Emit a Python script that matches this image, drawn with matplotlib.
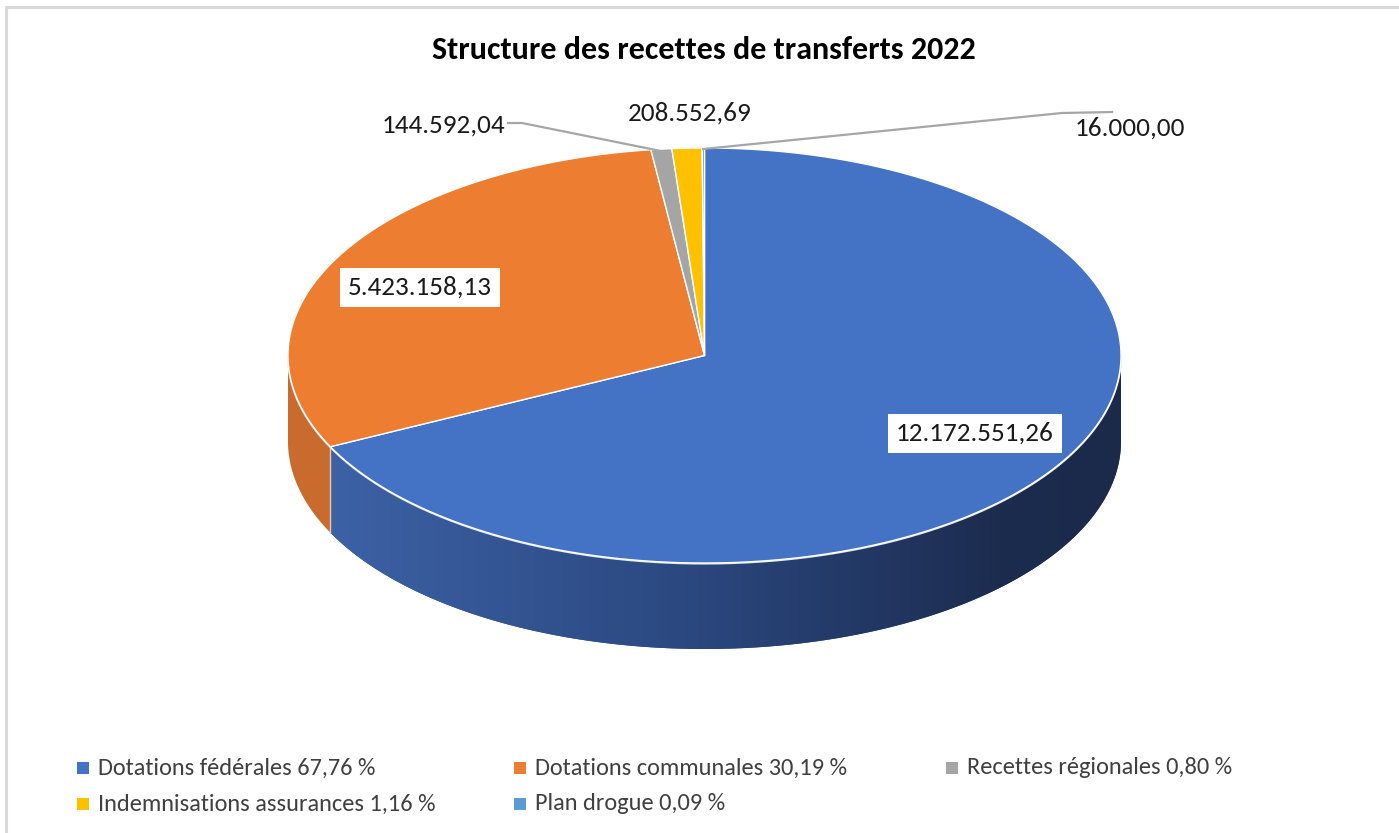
import numpy as np
import matplotlib
matplotlib.use("Agg")
import matplotlib.pyplot as plt
from matplotlib import font_manager
from matplotlib.patches import Polygon
from matplotlib.colors import LinearSegmentedColormap

# ---------------- data ----------------
categories = ["Dotations fédérales", "Dotations communales", "Recettes régionales",
              "Indemnisations assurances", "Plan drogue"]
values = [12172551.26, 5423158.13, 144592.04, 208552.69, 16000.00]
value_labels = ["12.172.551,26", "5.423.158,13", "144.592,04", "208.552,69", "16.000,00"]
percent_labels = ["67,76 %", "30,19 %", "0,80 %", "1,16 %", "0,09 %"]
colors = ["#4472C4", "#ED7D31", "#A5A5A5", "#FFC000", "#5B9BD5"]
side_colors = ["#2c4a82", "#c96b2c", "#7f7f7f", "#c89600", "#3f76a8"]
title = "Structure des recettes de transferts 2022"

# ---------------- font ----------------
avail = {f.name for f in font_manager.fontManager.ttflist}
FONT = next(f for f in ["Carlito", "Liberation Sans Narrow", "Open Sans", "DejaVu Sans"] if f in avail)
plt.rcParams["font.family"] = [FONT, "DejaVu Sans"]

W, H = 1399, 833
fig = plt.figure(figsize=(W / 100, H / 100), dpi=100)
ax = fig.add_axes([0, 0, 1, 1])
ax.set_xlim(0, W)
ax.set_ylim(H, 0)
ax.axis("off")

# frame
ax.plot([6, 6, W], [H, 7, 7], color="#d9d9d9", lw=2.2, solid_capstyle="butt")

# ---------------- 3D pie geometry ----------------
cx, cy, rx, ry, depth = 704.5, 355.5, 416.5, 207.5, 86


def P(theta, z=0.0):
    t = np.radians(theta)
    return cx + rx * np.cos(t), cy - ry * np.sin(t) + z


total = sum(values)
fracs = [v / total for v in values]
starts, ends = [], []
a = 90.0
for f in fracs:
    starts.append(a)
    ends.append(a - 360 * f)
    a -= 360 * f

# side walls (front half)
grad_cmap = LinearSegmentedColormap.from_list(
    "bl", [(0, "#3c61a5"), (0.45, "#2b4880"), (0.85, "#1c2c4f"), (1, "#1b2a4a")])
for i, (s, e) in enumerate(zip(starts, ends)):
    lo, hi = e, s
    ranges = []
    seg_lo, seg_hi = max(lo, -180), min(hi, 0)
    if seg_lo < seg_hi:
        ranges.append((seg_lo, seg_hi))
    seg_lo2, seg_hi2 = max(lo, 180), min(hi, 360)
    if seg_lo2 < seg_hi2:
        ranges.append((seg_lo2, seg_hi2))
    for (r0, r1) in ranges:
        th = np.linspace(r0, r1, 200)
        top = [P(t) for t in th]
        bot = [P(t, depth) for t in th[::-1]]
        poly = Polygon(top + bot, closed=True, facecolor=side_colors[i],
                       edgecolor="none", zorder=2)
        ax.add_patch(poly)
        if i == 0:
            xs = [p[0] for p in top]
            im = ax.imshow(np.linspace(0, 1, 256)[None, :], cmap=grad_cmap,
                           extent=[min(xs), max(xs), cy + ry + depth + 5, cy - 5],
                           aspect="auto", zorder=2.1, interpolation="bilinear")
            im.set_clip_path(poly)

# light rim between top face and side
th = np.linspace(-180, 0, 300)
ax.plot([P(t)[0] for t in th], [P(t)[1] + 0.6 for t in th], color="#dfe6f2", lw=1.4, zorder=2.5)
xb, yb = P(ends[0])
ax.plot([xb, xb], [yb, yb + depth], color="#e8c9b4", lw=1.0, zorder=2.6)

# top faces
for i, (s, e) in enumerate(zip(starts, ends)):
    th = np.linspace(s, e, max(int(abs(s - e) * 2), 4))
    pts = [(cx, cy)] + [P(t) for t in th]
    ax.add_patch(Polygon(pts, closed=True, facecolor=colors[i], edgecolor="white",
                         lw=1.0, joinstyle="round", zorder=3))

# ---------------- labels ----------------
label_kw = dict(fontsize=19.5, color="#1a1a1a", zorder=6)
for i, fr in zip([0, 1], [0.765, 0.775]):
    mid = (starts[i] + ends[i]) / 2
    x = cx + fr * rx * np.cos(np.radians(mid))
    y = cy - fr * ry * np.sin(np.radians(mid))
    y += -6 if i == 0 else 8
    ax.text(x, y, value_labels[i], ha="center", va="center",
            bbox=dict(boxstyle="square,pad=0.3", fc="white", ec="none"), **label_kw)

leader = "#a6a6a6"
mid2 = (starts[2] + ends[2]) / 2
ax.text(505, 125, value_labels[2], ha="right", va="center", **label_kw)
ax.plot([508, 522, P(mid2)[0]], [123, 123, P(mid2)[1] + 2], color=leader, lw=1.6, zorder=5)

ax.text(690, 113, value_labels[3], ha="center", va="center", **label_kw)

mid4 = (starts[4] + ends[4]) / 2
ax.text(1075, 128, value_labels[4], ha="left", va="center", **label_kw)
ax.plot([P(mid4)[0], 1062, 1112], [P(mid4)[1] + 1, 113, 112], color=leader, lw=1.6, zorder=5)

# title
ax.text(704, 50, title, ha="center", va="center", fontsize=23, fontweight="bold",
        color="#000000")

# ---------------- legend ----------------
leg_x = [83, 520, 952]
leg_y = [768, 804]
for i, (cat, pct) in enumerate(zip(categories, percent_labels)):
    r, c = divmod(i, 3)
    ax.scatter([leg_x[c]], [leg_y[r]], marker="s", s=70, color=colors[i], zorder=6,
               edgecolors="none")
    ax.text(leg_x[c] + 15, leg_y[r], f"{cat} {pct}", ha="left", va="center",
            fontsize=17.6, color="#404040")

fig.savefig("out.png", dpi=100)
